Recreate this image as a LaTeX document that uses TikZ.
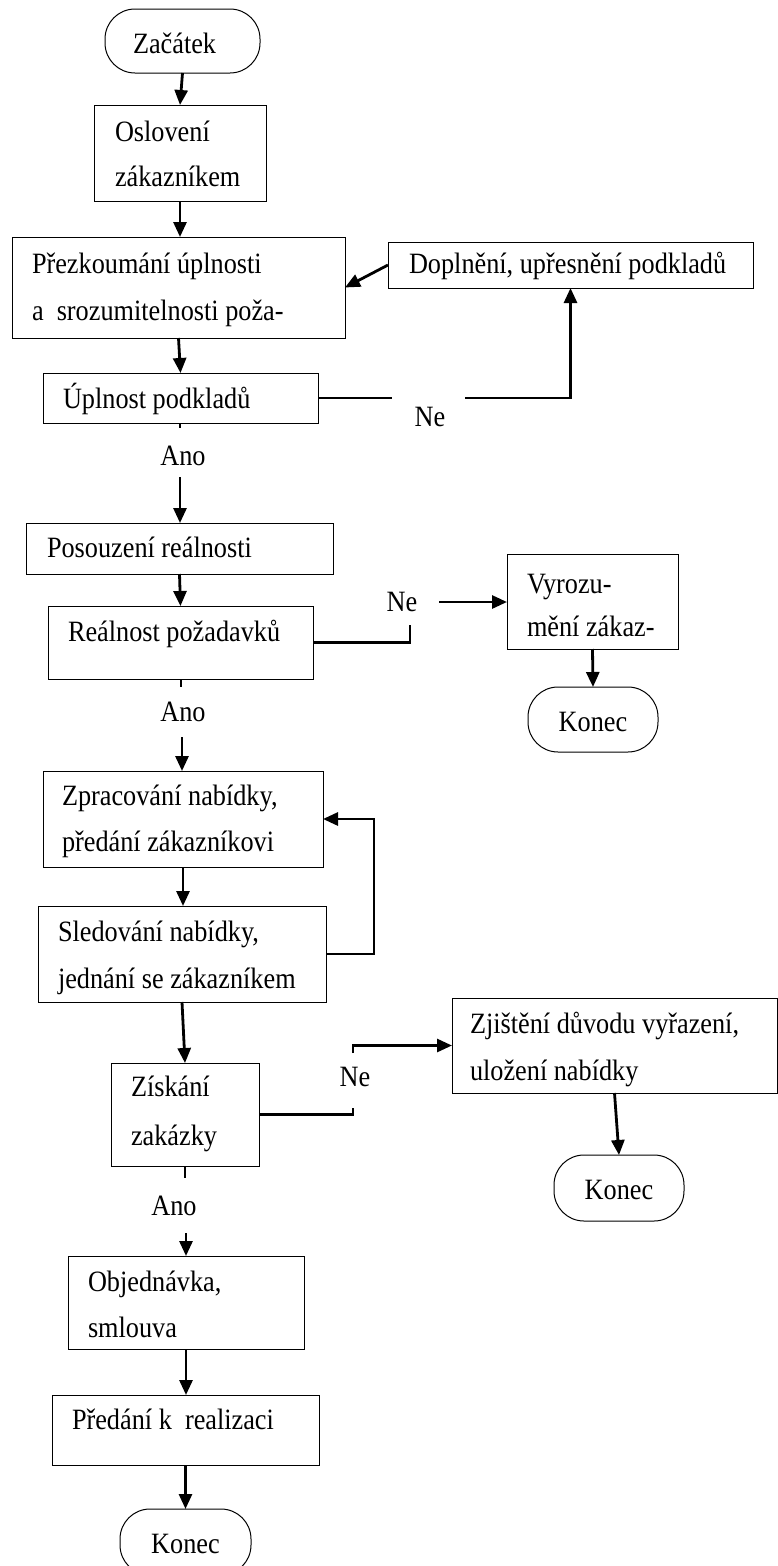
\documentclass[tikz,border=0pt]{standalone}
\usepackage{fontspec}
\setmainfont{Liberation Serif}[FakeStretch=0.89]
\usetikzlibrary{arrows.meta}
\begin{document}
\begin{tikzpicture}[x=1pt,y=-1pt,
  every node/.style={inner sep=0pt, outer sep=0pt},
  box/.style={draw, line width=1pt},
  term/.style={draw, line width=1pt, rounded corners=30pt,
    font=\fontsize{29.5}{34}\selectfont, text height=23pt, text depth=0pt},
  txt/.style={font=\fontsize{29.5}{34}\selectfont, anchor=base west},
  ctxt/.style={font=\fontsize{29.5}{34}\selectfont, anchor=base},
  ln/.style={line width=2.8pt},
  arr/.style={line width=2.8pt, -{Triangle[length=15pt,width=13pt]}}]
\clip (0,0) rectangle (778,1566);

% Start and first steps
\node[term, minimum width=155pt, minimum height=64pt] (zac) at (182.5,41) {};
\node[txt] (zac1) at (133,53) {Začátek};
\node[box, minimum width=172pt, minimum height=96pt] (osl) at (180,153) {};
\node[txt] (osl1) at (115,141) {Oslovení};
\node[txt] (osl2) at (115,186) {zákazníkem};
\node[box, minimum width=333pt, minimum height=101pt] (prez) at (178.5,287.5) {};
\node[txt] (prez1) at (32,273) {Přezkoumání úplnosti};
\node[txt] (prez2) at (32,320) {a~~srozumitelnosti poža-};
\node[box, minimum width=365pt, minimum height=46pt] (dopl) at (570.5,265) {};
\node[txt] (dopl1) at (409,273) {Doplnění, upřesnění podkladů};
\node[box, minimum width=275pt, minimum height=50pt] (upl) at (180.5,398) {};
\node[txt] (upl1) at (63,408) {Úplnost podkladů};
\node[ctxt] (ne1) at (430,426) {Ne};
\node[ctxt] (ano1) at (183,465) {Ano};

% Reality check
\node[box, minimum width=307pt, minimum height=51pt] (pos) at (179.5,548.5) {};
\node[txt] (pos1) at (47,557) {Posouzení reálnosti};
\node[box, minimum width=265pt, minimum height=73pt] (real) at (180.5,642.5) {};
\node[txt] (real1) at (68,641) {Reálnost požadavků};
\node[ctxt] (ne2) at (402,611) {Ne};
\node[box, minimum width=171pt, minimum height=95pt] (vyr) at (592.5,601.5) {};
\node[txt] (vyr1) at (527,593) {Vyrozu-};
\node[txt] (vyr2) at (527,636) {mění zákaz-};
\node[term, minimum width=130pt, minimum height=65pt] (kon1) at (593,719.5) {Konec};
\node[ctxt] (ano2) at (183,721) {Ano};

% Offer
\node[box, minimum width=280pt, minimum height=96pt] (zpr) at (183,819) {};
\node[txt] (zpr1) at (62,805) {Zpracování nabídky,};
\node[txt] (zpr2) at (62,851) {předání zákazníkovi};
\node[box, minimum width=288pt, minimum height=96pt] (sled) at (182,954) {};
\node[txt] (sled1) at (58,941) {Sledování nabídky,};
\node[txt] (sled2) at (58,988) {jednání se zákazníkem};
\node[box, minimum width=148pt, minimum height=103pt] (zis) at (185,1114.5) {};
\node[txt] (zis1) at (131,1096) {Získání};
\node[txt] (zis2) at (131,1145) {zakázky};
\node[ctxt] (ne3) at (355,1086) {Ne};
\node[box, minimum width=325pt, minimum height=95pt] (zji) at (614.5,1045.5) {};
\node[txt] (zji1) at (470,1033) {Zjištění důvodu vyřazení,};
\node[txt] (zji2) at (470,1080) {uložení nabídky};
\node[term, minimum width=130pt, minimum height=66pt] (kon2) at (619,1188) {Konec};
\node[ctxt] (ano3) at (174,1215) {Ano};

% Order and end
\node[box, minimum width=236pt, minimum height=93pt] (obj) at (186,1302.5) {};
\node[txt] (obj1) at (88,1291) {Objednávka,};
\node[txt] (obj2) at (88,1337) {smlouva};
\node[box, minimum width=267pt, minimum height=70pt] (pred) at (185.5,1430) {};
\node[txt] (pred1) at (72,1429) {Předání k~~realizaci};
\node[term, minimum width=131pt, minimum height=66pt] (kon3) at (185.5,1542) {Konec};

% Break points of the lines
\coordinate (s1a) at (180,428);
\coordinate (s1b) at (180,477);
\coordinate (n1a) at (392,398);
\coordinate (n1b) at (465,398);
\coordinate (n2a) at (410,625);
\coordinate (n2b) at (439,602);
\coordinate (s2a) at (181,687);
\coordinate (s2b) at (182,737);
\coordinate (n3a) at (353,1108);
\coordinate (n3b) at (353,1053);
\coordinate (s3a) at (185,1178);
\coordinate (s3b) at (186,1233);

% Connectors
\draw[arr] (zac.south) -- (osl.north);
\draw[arr] (osl.south) -- (osl.south |- prez.north);
\draw[arr] (dopl.west) -- (prez.east);
\draw[arr] (prez.south) -- (upl.north);
\draw[ln] (upl.east) -- (n1a);
\draw[arr] (n1b) -| (dopl.south);
\draw[ln] (upl.south -| s1a) -- (s1a);
\draw[arr] (s1b) -- (s1b |- pos.north);
\draw[arr] (pos.south) -- (real.north);
\draw[ln] (real.east) -| (n2a);
\draw[arr] (n2b) -- (n2b -| vyr.west);
\draw[arr] (vyr.south) -- (kon1.north);
\draw[ln] (real.south -| s2a) -- (s2a);
\draw[arr] (s2b) -- (s2b |- zpr.north);
\draw[arr] (zpr.south) -- (zpr.south |- sled.north);
\draw[arr] (sled.east) -- ++(48,0) |- (zpr.east);
\draw[arr] (sled.south) -- (zis.north);
\draw[ln] (zis.east) -| (n3a);
\draw[arr] (n3b) |- (zji.west);
\draw[arr] (zji.south) -- (kon2.north);
\draw[ln] (zis.south) -- (s3a);
\draw[arr] (s3b) -- (s3b |- obj.north);
\draw[arr] (obj.south) -- (obj.south |- pred.north);
\draw[arr] (pred.south) -- (kon3.north);
\end{tikzpicture}
\end{document}
